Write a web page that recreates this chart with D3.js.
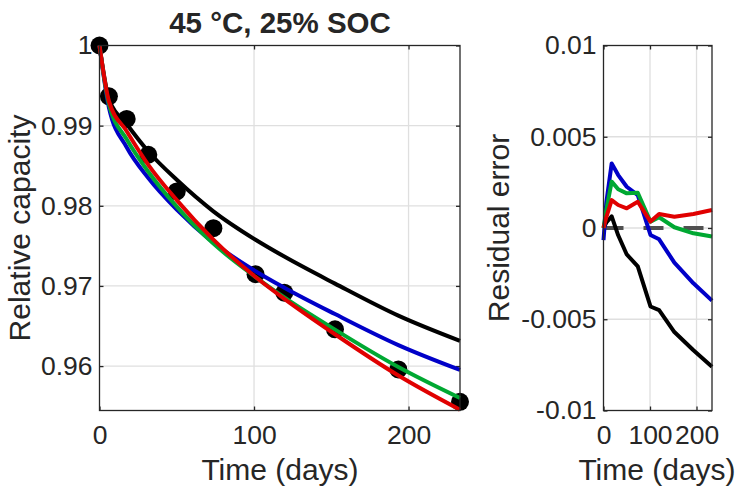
<!DOCTYPE html>
<html>
<head>
<meta charset="utf-8">
<script src="https://cdn.jsdelivr.net/npm/d3@7"></script>
<style>
  body { margin: 0; background: #fff; }
  text { font-family: "Liberation Sans", Arial, Helvetica, sans-serif; fill: #262626; }
</style>
</head>
<body>
<svg id="chart"></svg>
<script>
// measurement times (days) and measured relative capacity
const days = [0, 6.1, 17.6, 31.6, 50, 73.7, 101, 119.6, 152.4, 193.4, 233.3];
const measured = [1.0, 0.99366, 0.99084, 0.98637, 0.98179, 0.97721, 0.97146, 0.96916, 0.96459, 0.95959, 0.95554];

// model fits at the same times
const fitBlack = [1.0, 0.99336, 0.9902, 0.98677, 0.98324, 0.97931, 0.97576, 0.97366, 0.97029, 0.96629, 0.96314];
const fitBlue = [1.0, 0.99226, 0.9873, 0.98347, 0.97953, 0.97541, 0.97184, 0.96978, 0.96649, 0.96262, 0.95952];
const fitGreen = [1.0, 0.99266, 0.9883, 0.98425, 0.97989, 0.97528, 0.97111, 0.96857, 0.96455, 0.95988, 0.95601];
const fitRed = [1.0, 0.99306, 0.98931, 0.98511, 0.98071, 0.97577, 0.97111, 0.96839, 0.96397, 0.95882, 0.95455];

// residual error (measured - model)
const resBlack = [0, 0.0003, 0.00064, -0.0004, -0.00145, -0.0021, -0.0043, -0.0045, -0.0057, -0.0067, -0.0076];
const resBlue = [-0.00066, 0.0014, 0.00354, 0.0029, 0.00226, 0.0018, -0.00038, -0.00062, -0.0019, -0.00303, -0.00398];
const resGreen = [0, 0.001, 0.00254, 0.00212, 0.0019, 0.00193, 0.00035, 0.00059, 0.00004, -0.00029, -0.00047];
const resRed = [0, 0.0006, 0.00153, 0.00126, 0.00108, 0.00144, 0.00035, 0.00077, 0.00062, 0.00077, 0.00099];

const xTicks = [0, 100, 200];
const capTicks = [0.96, 0.97, 0.98, 0.99, 1];
const resTicks = [-0.01, -0.005, 0, 0.005, 0.01];

const colors = ['#000000', '#0000c8', '#00a832', '#e00000'];

const width = 740;
const height = 486;
const axisColor = '#262626';
const gridColor = '#dfdfdf';
const tickFont = 26.5;
const labelFont = 30;

const svg = d3.select('#chart')
  .attr('width', width)
  .attr('height', height);

function drawAxes(g, x, y, yTicks, yFormat) {
  const [x0, x1] = x.range();
  const [y0, y1] = y.range();

  // grid
  g.append('g')
    .selectAll('line')
    .data(xTicks.filter(t => x(t) > x0 + 1))
    .join('line')
    .attr('x1', d => x(d)).attr('x2', d => x(d))
    .attr('y1', y0).attr('y2', y1)
    .attr('stroke', gridColor).attr('stroke-width', 1.3);
  g.append('g')
    .selectAll('line')
    .data(yTicks.filter(t => y(t) > y1 + 1 && y(t) < y0 - 1))
    .join('line')
    .attr('x1', x0).attr('x2', x1)
    .attr('y1', d => y(d)).attr('y2', d => y(d))
    .attr('stroke', gridColor).attr('stroke-width', 1.3);

  const xAxis = g.append('g')
    .attr('transform', `translate(0, ${y0})`)
    .call(d3.axisBottom(x).tickValues(xTicks).tickSizeInner(-4).tickSizeOuter(0).tickPadding(15));
  const xTop = g.append('g')
    .attr('transform', `translate(0, ${y1})`)
    .call(d3.axisTop(x).tickValues(xTicks).tickSizeInner(-4).tickSizeOuter(0).tickFormat(''));
  const yAxis = g.append('g')
    .attr('transform', `translate(${x0}, 0)`)
    .call(d3.axisLeft(y).tickValues(yTicks).tickSizeInner(-4).tickSizeOuter(0).tickPadding(7).tickFormat(yFormat));
  const yRight = g.append('g')
    .attr('transform', `translate(${x1}, 0)`)
    .call(d3.axisRight(y).tickValues(yTicks).tickSizeInner(-4).tickSizeOuter(0).tickFormat(''));

  [xAxis, xTop, yAxis, yRight].forEach(a => {
    a.select('.domain').remove();
    a.selectAll('line').attr('stroke', axisColor).attr('stroke-width', 1.3);
    a.selectAll('text')
      .attr('font-size', tickFont)
      .attr('font-family', '"Liberation Sans", Arial, sans-serif')
      .attr('fill', axisColor);
  });
  xAxis.selectAll('text').attr('dy', '0.71em');

  return { xAxis, yAxis };
}

function drawBox(g, x, y) {
  const [x0, x1] = x.range();
  const [y0, y1] = y.range();
  g.append('rect')
    .attr('x', x0).attr('y', y1)
    .attr('width', x1 - x0).attr('height', y0 - y1)
    .attr('fill', 'none')
    .attr('stroke', axisColor)
    .attr('stroke-width', 1.3);
}

// ---- left panel: relative capacity ----
const xCap = d3.scaleLinear().domain([0, 233.3]).range([99.5, 460]);
const yCap = d3.scaleLinear().domain([0.95446, 1]).range([410.5, 45.5]);

const left = svg.append('g');
drawAxes(left, xCap, yCap, capTicks, d => d === 1 ? '1' : d3.format('.2f')(d));

left.append('g')
  .selectAll('circle')
  .data(days)
  .join('circle')
  .attr('cx', (d, i) => xCap(d))
  .attr('cy', (d, i) => yCap(measured[i]))
  .attr('r', 9)
  .attr('fill', '#000');

const capLine = d3.line()
  .x((d, i) => xCap(days[i]))
  .y(d => yCap(d))
  .curve(d3.curveMonotoneX);

[fitBlack, fitBlue, fitGreen, fitRed].forEach((series, k) => {
  left.append('path')
    .datum(series)
    .attr('d', capLine)
    .attr('fill', 'none')
    .attr('stroke', colors[k])
    .attr('stroke-width', 4)
    .attr('stroke-linejoin', 'round');
});

drawBox(left, xCap, yCap);

left.append('text')
  .attr('x', 280).attr('y', 33)
  .attr('text-anchor', 'middle')
  .attr('font-size', 29.5)
  .attr('font-weight', 'bold')
  .attr('fill', '#000')
  .text('45 °C, 25% SOC');

left.append('text')
  .attr('x', 280).attr('y', 480)
  .attr('text-anchor', 'middle')
  .attr('font-size', labelFont)
  .text('Time (days)');

left.append('text')
  .attr('transform', 'translate(30, 228) rotate(-90)')
  .attr('text-anchor', 'middle')
  .attr('font-size', labelFont)
  .text('Relative capacity');

// ---- right panel: residual error ----
const xRes = d3.scaleLinear().domain([0, 233.3]).range([603.5, 712]);
const yRes = d3.scaleLinear().domain([-0.01, 0.01]).range([410.5, 45.5]);

const right = svg.append('g');
drawAxes(right, xRes, yRes, resTicks, d => d === 0 ? '0' : String(d));

right.append('line')
  .attr('x1', xRes(0)).attr('x2', xRes(233.3))
  .attr('y1', yRes(0)).attr('y2', yRes(0))
  .attr('stroke', '#505050')
  .attr('stroke-width', 4)
  .attr('stroke-dasharray', '20 20');

const resLine = d3.line()
  .x((d, i) => xRes(days[i]))
  .y(d => yRes(d));

[resBlack, resBlue, resGreen, resRed].forEach((series, k) => {
  right.append('path')
    .datum(series)
    .attr('d', resLine)
    .attr('fill', 'none')
    .attr('stroke', colors[k])
    .attr('stroke-width', 4)
    .attr('stroke-linejoin', 'round');
});

drawBox(right, xRes, yRes);

right.append('text')
  .attr('x', 657).attr('y', 480)
  .attr('text-anchor', 'middle')
  .attr('font-size', labelFont)
  .text('Time (days)');

right.append('text')
  .attr('transform', 'translate(509, 228) rotate(-90)')
  .attr('text-anchor', 'middle')
  .attr('font-size', labelFont)
  .text('Residual error');
</script>
</body>
</html>
